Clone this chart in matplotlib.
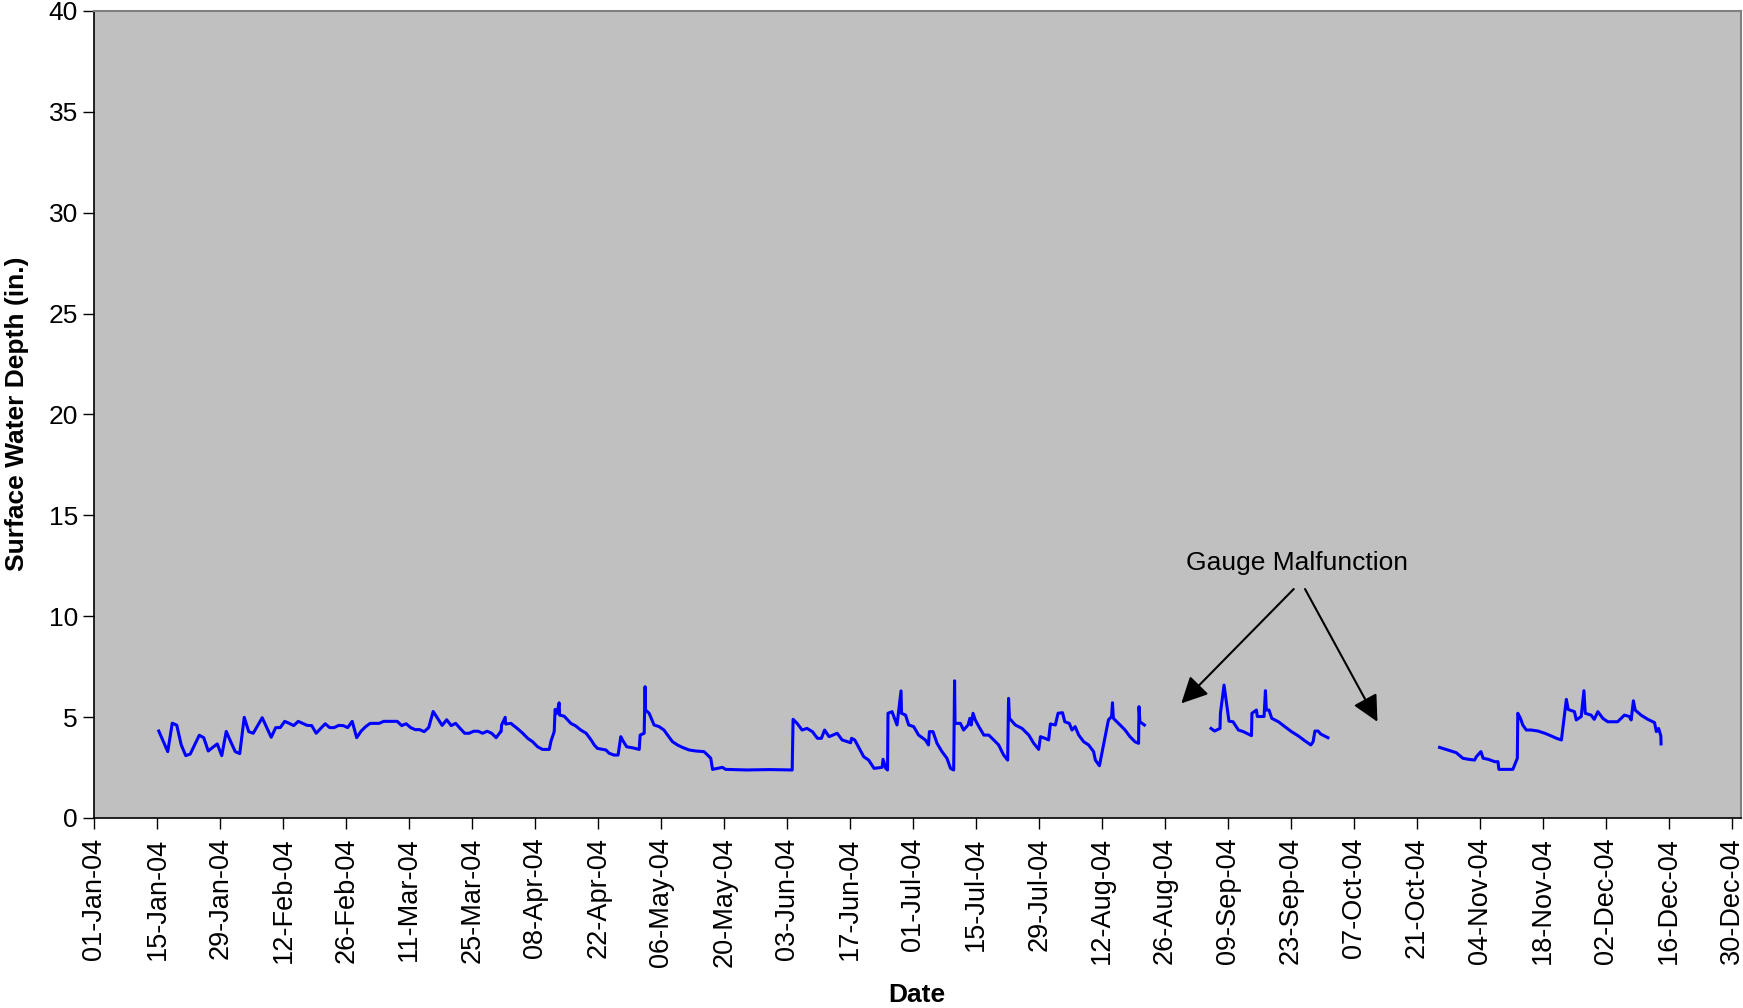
import numpy as np
import pandas as pd
import matplotlib
matplotlib.use("Agg")
import matplotlib.pyplot as plt
import matplotlib.dates as mdates

plt.rcParams['font.family'] = ['Liberation Sans', 'DejaVu Sans']

# %% Data
base = pd.Timestamp('2004-01-01')

# daily readings, 15-Jan-04 to 31-Mar-04
daily_start = '2004-01-15 07:00'
daily_vals = [4.31, 3.80, 3.29, 4.70, 4.60, 3.62, 3.09, 3.17, 3.63, 4.10,
              3.98, 3.32, 3.50, 3.67, 3.09, 4.29, 3.78, 3.29, 3.19, 4.99,
              4.28, 4.20, 4.59, 4.97, 4.48, 4.00, 4.48, 4.48, 4.79, 4.69,
              4.58, 4.79, 4.69, 4.59, 4.58, 4.20, 4.44, 4.67, 4.48, 4.48,
              4.59, 4.58, 4.48, 4.79, 3.98, 4.31, 4.53, 4.69, 4.69, 4.69,
              4.79, 4.79, 4.79, 4.79, 4.58, 4.67, 4.48, 4.38, 4.38, 4.28,
              4.48, 5.28, 4.94, 4.59, 4.87, 4.58, 4.69, 4.44, 4.20, 4.20,
              4.30, 4.30, 4.20, 4.30, 4.20, 3.98, 4.28]

# logger readings (days after 01-Jan-04), NaN marks the gauge gaps
logger_days = [
    90.4, 90.5, 91.3, 91.4, 92.6, 93.0, 93.7, 94.4, 95.2, 96.3, 97.4, 98.5,
    99.6, 101.1, 101.5, 102.2, 102.4, 102.8, 103.3, 103.4, 104.4, 105.2,
    105.9, 107.0, 108.1, 109.3, 110.4, 111.1, 111.8, 113.7, 114.4, 115.5,
    116.4, 117.0, 117.4, 118.3, 119.6, 121.1, 121.3, 122.2, 122.4, 122.5,
    123.3, 124.4, 125.5, 126.6, 127.4, 128.5, 129.6, 130.7, 132.2, 133.7,
    135.5, 136.3, 137.0, 137.4, 139.6, 140.3, 145.0, 150.0, 155.1, 155.3,
    156.2, 157.3, 158.4, 159.6, 160.7, 161.6, 162.3, 163.3, 165.1, 166.2,
    168.1, 168.3, 169.0, 169.9, 171.0, 172.1, 173.3, 175.1, 175.3, 175.9,
    176.3, 176.4, 177.3, 178.4, 179.3, 179.4, 180.3, 181.0, 182.1, 183.2,
    184.7, 185.4, 185.6, 186.4, 187.3, 188.4, 189.5, 190.3, 191.0, 191.2,
    191.3, 192.5, 193.2, 194.2, 194.6, 194.9, 195.3, 195.8, 196.6, 197.7,
    198.8, 199.9, 201.0, 202.1, 203.0, 203.2, 203.4, 204.7, 206.2, 207.7,
    208.8, 209.9, 210.3, 211.3, 212.1, 212.5, 213.6, 214.2, 215.2, 215.7,
    216.7, 217.3, 218.0, 218.8, 219.9, 221.0, 222.1, 222.5, 223.4, 225.4,
    226.1, 226.3, 226.5, 228.0, 229.1, 230.2, 231.3, 232.1, 232.2, 232.4,
    233.4, 240.0,
    248.2, 249.0, 250.2, 250.3, 251.1, 252.2, 253.1, 254.3, 255.4, 257.2,
    257.3, 258.3, 258.5, 260.0, 260.3, 260.5, 261.1, 261.7, 263.2, 264.6,
    266.1, 267.6, 269.1, 270.4, 270.9, 271.3, 272.0, 272.6, 274.2, 285.0,
    299.0, 302.7, 304.2, 305.4, 306.8, 307.2, 308.2, 308.7, 309.8, 311.3,
    312.0, 312.2, 315.3, 316.3, 316.4, 317.0, 317.5, 318.3, 319.4, 320.9,
    322.4, 323.8, 325.0, 326.1, 327.2, 327.6, 329.0, 329.4, 330.5, 331.1,
    331.4, 332.7, 333.4, 334.2, 335.3, 336.4, 338.6, 340.1, 341.2, 341.6,
    342.1, 342.5, 343.8, 345.3, 346.8, 347.2, 347.7, 348.2, 348.25]
logger_vals = [
    4.28, 4.61, 4.99, 4.66, 4.69, 4.61, 4.49, 4.36, 4.20, 3.95, 3.78, 3.53,
    3.40, 3.40, 3.82, 4.28, 5.38, 5.19, 5.71, 5.10, 5.05, 4.86,
    4.69, 4.56, 4.36, 4.20, 3.87, 3.62, 3.45, 3.37, 3.21, 3.12,
    3.12, 4.03, 3.86, 3.53, 3.48, 3.40, 4.11, 4.20, 6.51, 5.35,
    5.19, 4.61, 4.53, 4.36, 4.11, 3.78, 3.62, 3.50, 3.37, 3.32,
    3.29, 3.12, 2.96, 2.41, 2.51, 2.41, 2.38, 2.40, 2.38, 4.89,
    4.69, 4.36, 4.44, 4.28, 3.95, 3.95, 4.36, 4.03, 4.20, 3.87,
    3.73, 3.95, 3.87, 3.50, 3.04, 2.87, 2.46, 2.51, 2.91, 2.46,
    2.38, 5.19, 5.27, 4.61, 6.30, 5.19, 5.10, 4.61, 4.53, 4.11,
    3.87, 3.62, 4.28, 4.28, 3.70, 3.29, 2.96, 2.46, 2.38, 6.80,
    4.69, 4.69, 4.36, 4.61, 4.94, 4.61, 5.19, 4.86, 4.53, 4.11,
    4.11, 3.87, 3.62, 3.12, 2.87, 5.93, 4.94, 4.61, 4.44, 4.11,
    3.70, 3.40, 4.03, 3.95, 3.87, 4.66, 4.61, 5.19, 5.22, 4.77,
    4.69, 4.36, 4.53, 4.11, 3.78, 3.62, 3.29, 2.87, 2.59, 4.86,
    5.03, 5.71, 4.94, 4.61, 4.36, 4.03, 3.78, 3.70, 5.52, 4.77,
    4.61, np.nan,
    4.44, 4.31, 4.44, 5.19, 6.59, 4.80, 4.77, 4.36, 4.28, 4.08,
    5.19, 5.35, 5.03, 5.03, 6.31, 5.35, 5.35, 4.94, 4.77, 4.53,
    4.28, 4.07, 3.82, 3.62, 3.78, 4.31, 4.31, 4.16, 3.98, np.nan,
    3.50, 3.24, 2.96, 2.91, 2.87, 3.04, 3.29, 2.96, 2.91, 2.79,
    2.79, 2.41, 2.41, 2.96, 5.19, 4.94, 4.61, 4.36, 4.36, 4.31,
    4.20, 4.07, 3.95, 3.87, 5.88, 5.38, 5.27, 4.86, 5.03, 6.31,
    5.19, 5.10, 4.89, 5.27, 4.94, 4.77, 4.77, 5.10, 5.03, 4.86,
    5.81, 5.35, 5.10, 4.89, 4.73, 4.28, 4.44, 4.07, 3.67]

# annotation: text position and arrow tips (day, depth)
note_text = 'Gauge Malfunction'
note_pos = (267.4, 12.64)
arrow_tails = [(266.6, 11.35), (269.1, 11.35)]
arrow_tips = [(241.6, 5.68), (285.2, 4.77)]

# %% Build series
daily_dates = pd.date_range(daily_start, periods=len(daily_vals), freq='D')
logger_dates = base + pd.to_timedelta(logger_days, unit='D')

dates = list(daily_dates) + list(logger_dates)
depth = list(daily_vals) + list(logger_vals)


def to_num(day):
    return mdates.date2num(base + pd.Timedelta(days=day))


# %% Plot
fig = plt.figure(figsize=(17.43, 10.08), dpi=100)
ax = fig.add_axes([0.0542, 0.1885, 0.9446, 0.8006])
ax.set_facecolor('#C0C0C0')

ax.plot(dates, depth, color='#0000FF', lw=2.2)

ax.set_ylim(0, 40)
ax.set_yticks(np.arange(0, 41, 5))
ax.set_xlim(to_num(0), to_num(366))
ticks = pd.date_range('2004-01-01', '2004-12-30', freq='14D')
ax.set_xticks(mdates.date2num(ticks))
ax.xaxis.set_major_formatter(mdates.DateFormatter('%d-%b-%y'))
plt.setp(ax.get_xticklabels(), rotation=90)

ax.tick_params(axis='x', labelsize=19.5, length=8, width=1, direction='out', pad=6)
ax.tick_params(axis='y', labelsize=19, length=8, width=1, direction='out', pad=4)

for side in ['left', 'bottom']:
    ax.spines[side].set_color('black')
    ax.spines[side].set_linewidth(1.2)
for side in ['top', 'right']:
    ax.spines[side].set_color('#808080')
    ax.spines[side].set_linewidth(1.5)

ax.set_xlabel('Date', fontsize=19, fontweight='bold')
ax.xaxis.label.set_va('center')
ax.xaxis.set_label_coords(0.4995, -0.219)
ax.set_ylabel('Surface Water Depth (in.)', fontsize=19, fontweight='bold')
ax.yaxis.label.set_va('center')
ax.yaxis.set_label_coords(-0.0471, 0.5015)

# Gauge malfunction note with two arrows
ax.text(to_num(note_pos[0]), note_pos[1], note_text, fontsize=19,
        ha='center', va='center')
for (tx, ty), (hx, hy) in zip(arrow_tails, arrow_tips):
    ax.annotate('', xy=(to_num(hx), hy), xytext=(to_num(tx), ty),
                arrowprops=dict(arrowstyle='-|>,head_length=0.8,head_width=0.4',
                                color='black', lw=1.5, mutation_scale=20,
                                shrinkA=0, shrinkB=0))

fig.savefig('out.png', dpi=100)
